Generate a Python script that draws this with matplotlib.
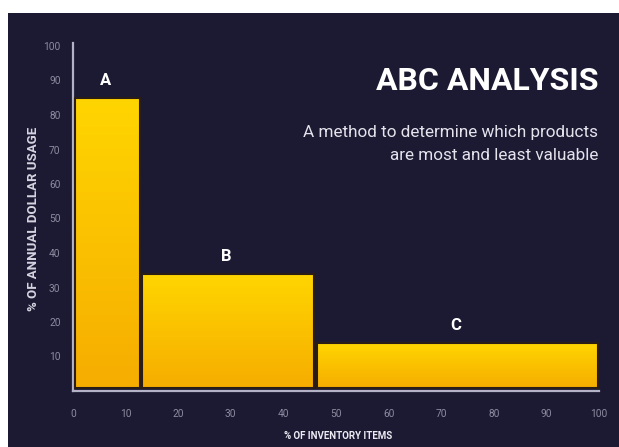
import matplotlib
matplotlib.use("Agg")
import matplotlib.pyplot as plt
import numpy as np
from matplotlib.colors import LinearSegmentedColormap
from matplotlib.patches import Rectangle

# ABC classes: share of inventory items (cumulative boundaries) and share of annual dollar usage
classes = ["A", "B", "C"]
item_bounds = [0, 12.8, 46, 100]
usage_share = [84, 33, 13]
x_ticks = [0, 10, 20, 30, 40, 50, 60, 70, 80, 90, 100]
y_ticks = [10, 20, 30, 40, 50, 60, 70, 80, 90, 100]

BG = "#1c1a33"
SPINE = "#b4b2c6"
TICK = "#8d8ba0"

fig = plt.figure(figsize=(6.19, 4.47), dpi=100)
fig.patch.set_facecolor("white")
fig.patches.append(Rectangle((8 / 619, 0), 1, 1 - 13 / 447, transform=fig.transFigure,
                             facecolor=BG, edgecolor="none", zorder=-5))

ax = fig.add_axes([73 / 619, 56 / 447, (599 - 73) / 619, (391 - 46) / 447])
ax.set_facecolor("none")

grad = LinearSegmentedColormap.from_list("gold", ["#f6ad00", "#ffd500"])
gradient = np.linspace(0, 1, 256).reshape(-1, 1)

for i, (name, h) in enumerate(zip(classes, usage_share)):
    x0, x1 = item_bounds[i], item_bounds[i + 1]
    bar = ax.bar(x0 + 0.3, h, width=(x1 - x0) - 0.45, bottom=1.0, align="edge",
                 color="none", edgecolor="#2a1c16", linewidth=1.5, zorder=3)[0]
    img = ax.imshow(gradient, cmap=grad, origin="lower", aspect="auto",
                    extent=(x0 + 0.3, x1 - 0.15, 1.0, h + 1.0), zorder=2)
    img.set_clip_path(bar)
    ax.text((x0 + x1) / 2 - 0.2, h + 6, name, color="white", fontsize=12, fontweight="bold",
            ha="center", va="center", family="Roboto", zorder=4)

ax.set_xlim(0, 100)
ax.set_ylim(0, 100)

for side in ["top", "right"]:
    ax.spines[side].set_visible(False)
for side in ["left", "bottom"]:
    ax.spines[side].set_color(SPINE)
    ax.spines[side].set_linewidth(1.6)
ax.spines["left"].set_bounds(0, 101)

ax.set_xticks(x_ticks)
ax.set_yticks(y_ticks)
ax.tick_params(length=0, colors=TICK, labelsize=7.3)
ax.tick_params(axis="x", pad=13)
ax.tick_params(axis="y", pad=9)
for lab in ax.get_xticklabels() + ax.get_yticklabels():
    lab.set_family("Roboto")

ax.set_ylabel("% OF ANNUAL DOLLAR USAGE", color="#d6d4e0", fontsize=9.5, fontweight="bold",
              family="Roboto")
ax.yaxis.set_label_coords(-0.062, 0.5)
fig.text(338 / 619, 1 - 436 / 447, "% OF INVENTORY ITEMS", color="#ecebf2", fontsize=7,
         fontweight="bold", family="Roboto", ha="center", va="center")

fig.text(598 / 619, 1 - 81 / 447, "ABC ANALYSIS", color="white", fontsize=23,
         fontweight="bold", family="Roboto", ha="right", va="center")
fig.text(598 / 619, 1 - 133 / 447, "A method to determine which products", color="#e4e3ec",
         fontsize=12.3, family="Roboto", ha="right", va="center")
fig.text(598 / 619, 1 - 156 / 447, "are most and least valuable", color="#e4e3ec",
         fontsize=12.3, family="Roboto", ha="right", va="center")

fig.savefig("out.png", dpi=100, facecolor=fig.get_facecolor())
